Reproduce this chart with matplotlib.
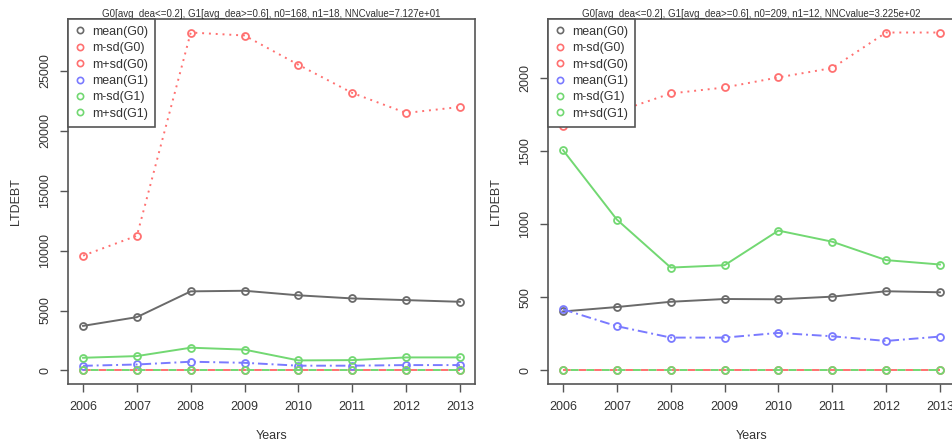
import numpy as np
import matplotlib
matplotlib.use('Agg')
import matplotlib.pyplot as plt
from matplotlib.lines import Line2D

plt.rcParams['font.family'] = ['Liberation Sans', 'DejaVu Sans']

years = [2006, 2007, 2008, 2009, 2010, 2011, 2012, 2013]

# left panel (n0=168, n1=18)
left_title = 'G0[avg_dea<=0.2], G1[avg_dea>=0.6], n0=168, n1=18, NNCvalue=7.127e+01'
left_mean_g0 = [3720, 4450, 6600, 6650, 6270, 6010, 5870, 5730]
left_msd_g0 = [0, 0, 0, 0, 0, 0, 0, 0]
left_psd_g0 = [9580, 11240, 28190, 27940, 25500, 23150, 21480, 21980]
left_mean_g1 = [390, 500, 730, 640, 400, 400, 450, 450]
left_msd_g1 = [0, 0, 0, 0, 0, 0, 0, 0]
left_psd_g1 = [1060, 1200, 1900, 1740, 840, 865, 1090, 1090]
left_yticks = [0, 5000, 10000, 15000, 20000, 25000]

# right panel (n0=209, n1=12)
right_title = 'G0[avg_dea<=0.2], G1[avg_dea>=0.6], n0=209, n1=12, NNCvalue=3.225e+02'
right_mean_g0 = [404, 434, 470, 489, 487, 505, 542, 535]
right_msd_g0 = [0, 0, 0, 0, 0, 0, 0, 0]
right_psd_g0 = [1672, 1770, 1895, 1936, 2005, 2069, 2312, 2312]
right_mean_g1 = [418, 303, 225, 225, 257, 234, 202, 232]
right_msd_g1 = [0, 0, 0, 0, 0, 0, 0, 0]
right_psd_g1 = [1507, 1032, 704, 720, 957, 881, 755, 725]
right_yticks = [0, 500, 1000, 1500, 2000]

labels = ['mean(G0)', 'm-sd(G0)', 'm+sd(G0)', 'mean(G1)', 'm-sd(G1)', 'm+sd(G1)']
colors = ['#6a6a6a', '#ff7070', '#ff7070', '#7a7aff', '#72d872', '#72d872']
styles = ['-', (0, (4, 4)), (0, (1, 2.5)), (0, (5, 2, 1, 2)), (4, (4, 4)), '-']

W, H = 953, 444
fig = plt.figure(figsize=(W / 100, H / 100), dpi=100)


def panel(x0, title, series, yticks):
    ax = fig.add_axes([x0 / W, (H - 384) / H, 407 / W, 365 / H])
    allv = np.concatenate([np.array(s) for s in series])
    lo, hi = allv.min(), allv.max()
    ax.set_ylim(lo - 0.04 * (hi - lo), hi + 0.04 * (hi - lo))
    ax.set_xlim(2006 - 0.04 * 7, 2013 + 0.04 * 7)
    for s, c, ls in zip(series, colors, styles):
        ax.plot(years, s, color=c, linestyle=ls, linewidth=1.4,
                marker='o', markersize=5, markerfacecolor='none',
                markeredgewidth=1.3, markeredgecolor=c)
    ax.set_xticks(years)
    ax.set_yticks(yticks)
    ax.tick_params(direction='out', length=6, width=1, color='#555555',
                   labelsize=9, labelcolor='#333333', pad=6)
    for lbl in ax.get_yticklabels():
        lbl.set_rotation(90)
        lbl.set_va('center')
        lbl.set_ha('right')
    for sp in ax.spines.values():
        sp.set_color('#555555')
        sp.set_linewidth(1.2)
    ax.set_title(title, fontsize=7, pad=1.5, color='#333333')
    ax.set_xlabel('Years', fontsize=9, color='#333333')
    ax.set_ylabel('LTDEBT', fontsize=9, color='#333333')
    ax.xaxis.set_label_coords(0.5, -0.125)
    ax.yaxis.set_label_coords(-0.113, 0.5)
    handles = [Line2D([], [], linestyle='none', marker='o', markersize=4.5,
                      markerfacecolor='none', markeredgecolor=c, markeredgewidth=1.2)
               for c in colors]
    leg = ax.legend(handles, labels, loc='upper left', bbox_to_anchor=(0, 1),
                    borderaxespad=0, fancybox=False, framealpha=1,
                    edgecolor='#555555', fontsize=9, handlelength=0.8,
                    handletextpad=0.6, labelspacing=0.35, borderpad=0.55)
    leg.get_frame().set_linewidth(1.2)
    for t in leg.get_texts():
        t.set_color('#333333')
    return ax


panel(68, left_title,
      [left_mean_g0, left_msd_g0, left_psd_g0, left_mean_g1, left_msd_g1, left_psd_g1],
      left_yticks)
panel(548, right_title,
      [right_mean_g0, right_msd_g0, right_psd_g0, right_mean_g1, right_msd_g1, right_psd_g1],
      right_yticks)

fig.savefig('out.png', dpi=100)
